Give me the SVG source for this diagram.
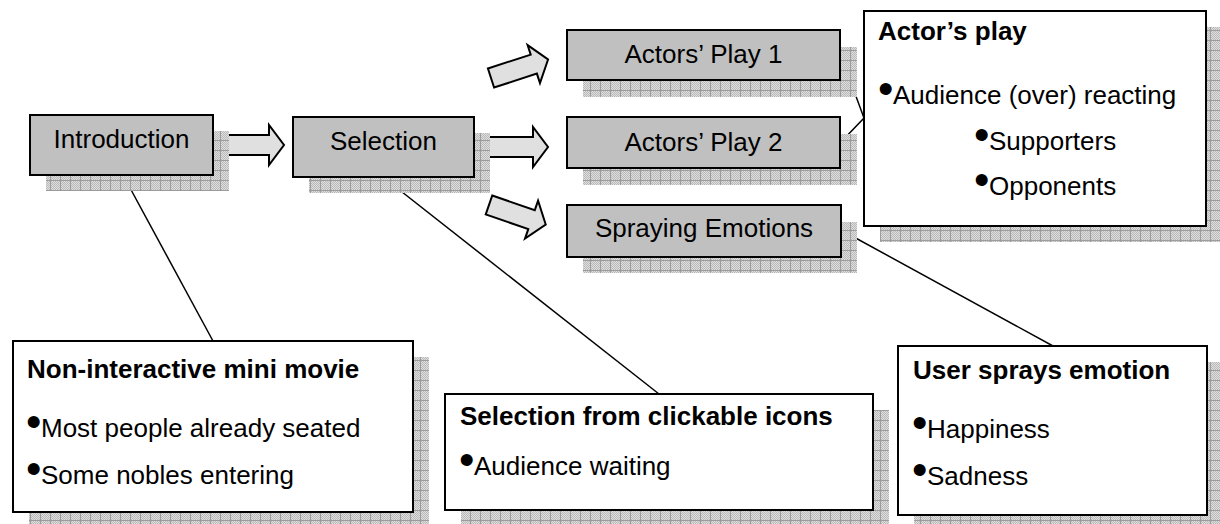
<svg xmlns="http://www.w3.org/2000/svg" width="1220" height="524" viewBox="0 0 1220 524">
  <defs>
    <!-- fine dither used inside the shadow grid cells -->
    <pattern id="dither" width="2" height="2" patternUnits="userSpaceOnUse">
      <rect width="2" height="2" fill="#dedede"/>
      <rect width="1" height="1" fill="#bababa"/>
      <rect x="1" y="1" width="1" height="1" fill="#bababa"/>
    </pattern>
    <!-- gridded drop shadow -->
    <pattern id="grid" width="10" height="10" patternUnits="userSpaceOnUse">
      <rect width="10" height="10" fill="url(#dither)"/>
      <rect width="10" height="1" fill="#9c9c9c"/>
      <rect width="1" height="10" fill="#9c9c9c"/>
    </pattern>
    <path id="arrow" d="M0,-10 H45 V-20 L60,0 L45,20 V10 H0 Z"/>
  </defs>
  <style>
    .shadow { fill: url(#grid); }
    .step { fill: #c0c0c0; stroke: #000; stroke-width: 2; }
    .note { fill: #fff; stroke: #000; stroke-width: 2; }
    .arr { fill: #e0e0e0; stroke: #000; stroke-width: 2; stroke-linejoin: miter; }
    .link { stroke: #000; stroke-width: 1.5; fill: none; }
    text { font-family: "Liberation Sans", Arial, sans-serif; font-size: 26px; fill: #000; }
    .lbl { text-anchor: middle; }
    .ttl { font-weight: bold; }
    .blt { font-size: 44px; }
  </style>

  <!-- connectors: callout lines and flow arrows -->
  <g id="connectors">
    <line class="link" x1="123" y1="175" x2="213" y2="341"/>
    <line class="link" x1="383" y1="177" x2="659" y2="394"/>
    <line class="link" x1="841" y1="230" x2="1053" y2="346"/>
    <polyline class="link" points="840,53 864,118 840,143"/>
    <use href="#arrow" class="arr" transform="translate(224,145)"/>
    <use href="#arrow" class="arr" transform="translate(488,147)"/>
    <use href="#arrow" class="arr" transform="translate(491,78) rotate(-18)"/>
    <use href="#arrow" class="arr" transform="translate(489,205) rotate(19)"/>
  </g>

  <g id="introduction">
    <rect class="shadow" x="46" y="131" width="183" height="60"/>
    <rect class="step" x="30" y="115" width="183" height="60"/>
    <text class="lbl" x="121.5" y="148">Introduction</text>
  </g>

  <g id="selection">
    <rect class="shadow" x="309" y="133" width="181" height="60"/>
    <rect class="step" x="293" y="117" width="181" height="60"/>
    <text class="lbl" x="383.5" y="150">Selection</text>
  </g>

  <g id="play1">
    <rect class="shadow" x="583" y="47" width="274" height="50"/>
    <rect class="step" x="567" y="30" width="273" height="50"/>
    <text class="lbl" x="703.5" y="63">Actors’ Play 1</text>
  </g>

  <g id="play2">
    <rect class="shadow" x="583" y="134" width="274" height="51"/>
    <rect class="step" x="567" y="117" width="273" height="51"/>
    <text class="lbl" x="703.5" y="151">Actors’ Play 2</text>
  </g>

  <g id="spraying">
    <rect class="shadow" x="583" y="222" width="274" height="51"/>
    <rect class="step" x="567" y="205" width="274" height="52"/>
    <text class="lbl" x="704" y="237">Spraying Emotions</text>
  </g>

  <g id="actors-play-note">
    <rect class="shadow" x="880" y="27" width="342" height="215"/>
    <rect class="note" x="864" y="11" width="342" height="215"/>
    <text class="ttl" x="878" y="40">Actor’s play</text>
    <text class="blt" x="878" y="104">•</text>
    <text x="893" y="104">Audience (over) reacting</text>
    <text class="blt" x="974" y="150">•</text>
    <text x="989" y="150">Supporters</text>
    <text class="blt" x="974" y="195">•</text>
    <text x="989" y="195">Opponents</text>
  </g>

  <g id="intro-note">
    <rect class="shadow" x="29" y="357" width="400" height="171"/>
    <rect class="note" x="13" y="341" width="400" height="171"/>
    <text class="ttl" x="27" y="378">Non-interactive mini movie</text>
    <text class="blt" x="26" y="437">•</text>
    <text x="41" y="437">Most people already seated</text>
    <text class="blt" x="26" y="484">•</text>
    <text x="41" y="484">Some nobles entering</text>
  </g>

  <g id="selection-note">
    <rect class="shadow" x="461" y="410" width="428" height="116"/>
    <rect class="note" x="445" y="394" width="428" height="116"/>
    <text class="ttl" x="460" y="425">Selection from clickable icons</text>
    <text class="blt" x="459" y="475">•</text>
    <text x="474" y="475">Audience waiting</text>
  </g>

  <g id="emotion-note">
    <rect class="shadow" x="914" y="362" width="309" height="169"/>
    <rect class="note" x="898" y="346" width="309" height="169"/>
    <text class="ttl" x="913" y="379">User sprays emotion</text>
    <text class="blt" x="912" y="438">•</text>
    <text x="927" y="438">Happiness</text>
    <text class="blt" x="912" y="485">•</text>
    <text x="927" y="485">Sadness</text>
  </g>
</svg>
